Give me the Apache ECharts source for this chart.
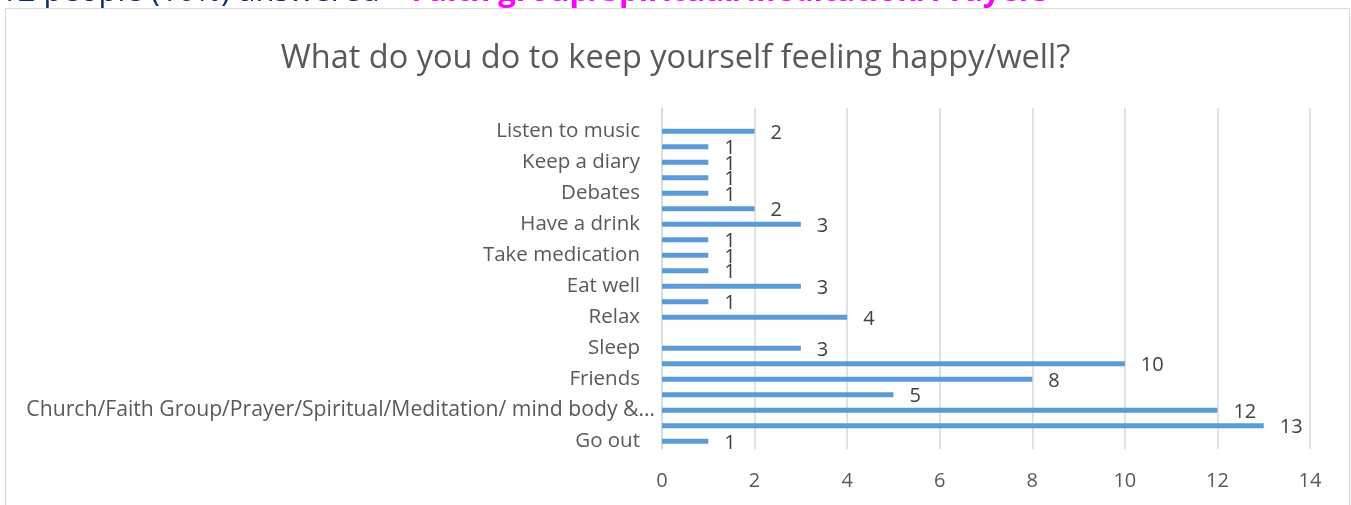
<!DOCTYPE html>
<html>
<head>
<meta charset="utf-8">
<script src="https://cdn.jsdelivr.net/npm/echarts@6/dist/echarts.min.js"></script>
<style>
  html, body { margin: 0; padding: 0; background: #ffffff; }
  #chart { width: 1351px; height: 505px; }
</style>
</head>
<body>
<div id="chart"></div>
<script>
// Categories listed top to bottom; blank entries are rows without a printed label
const categories = [
  '', 'Listen to music', '', 'Keep a diary', '', 'Debates', '', 'Have a drink', '',
  'Take medication', '', 'Eat well', '', 'Relax', '', 'Sleep', '', 'Friends', '',
  'Church/Faith Group/Prayer/Spiritual/Meditation/ mind body &…', '', 'Go out'
];
// Number of responses per row (same order as categories)
const responses = [null, 2, 1, 1, 1, 1, 2, 3, 1, 1, 1, 3, 1, 4, null, 3, 10, 8, 5, 12, 13, 1];
const xTicks = [0, 2, 4, 6, 8, 10, 12, 14];

const headingLead = '12 people (10%) answered – ';
const headingTopic = 'Faith group/Spiritual/Meditation/Prayers';
const chartTitle = 'What do you do to keep yourself feeling happy/well?';

const font = '"Open Sans", sans-serif';
const chart = echarts.init(document.getElementById('chart'), null, { renderer: 'canvas' });

chart.setOption({
  animation: false,
  backgroundColor: '#ffffff',
  title: {
    text: chartTitle,
    left: 'center',
    top: 37,
    textStyle: { fontFamily: font, fontSize: 32.5, fontWeight: 'normal', color: '#595959' }
  },
  graphic: [
    {
      type: 'rect',
      shape: { x: 5.5, y: 8.5, width: 1344, height: 520 },
      style: { fill: 'none', stroke: '#d9d9d9', lineWidth: 1 },
      silent: true
    },
    {
      type: 'text',
      left: 0,
      top: -23,
      style: {
        text: '{a|' + headingLead + '}{b|' + headingTopic + '}',
        rich: {
          a: { fontFamily: font, fontSize: 31, fill: '#0b2a6b' },
          b: { fontFamily: font, fontSize: 31, fontWeight: 'bold', fill: '#ff00ff' }
        }
      },
      silent: true
    }
  ],
  grid: { left: 662, right: 41, top: 108, bottom: 56, containLabel: false },
  xAxis: {
    type: 'value',
    min: 0,
    max: 14,
    interval: 2,
    axisLine: { show: false },
    axisTick: { show: false },
    splitLine: { show: true, lineStyle: { color: '#d9d9d9', width: 1.5 } },
    axisLabel: {
      fontFamily: font, fontSize: 20, color: '#595959', margin: 22,
      formatter: v => (xTicks.indexOf(v) >= 0 ? String(v) : '')
    }
  },
  yAxis: {
    type: 'category',
    inverse: true,
    data: categories,
    axisLine: { show: true, lineStyle: { color: '#d9d9d9', width: 1.5 } },
    axisTick: { show: false },
    axisLabel: {
      interval: 0,
      margin: 6,
      // truncated long names run a little closer to the axis
      formatter: name => (name.endsWith('…') ? '{w|' + name + '}' : '{n|' + name + '}'),
      rich: {
        n: { fontFamily: font, fontSize: 20.5, color: '#595959', padding: [0, 16, 0, 0] },
        w: { fontFamily: font, fontSize: 21.2, color: '#595959', padding: [0, 1, 0, 0] }
      }
    }
  },
  series: [
    {
      type: 'bar',
      data: responses,
      barWidth: 5,
      itemStyle: { color: '#5b9bd5' },
      label: {
        show: true,
        position: 'right',
        distance: 16,
        offset: [0, 2],
        fontFamily: font,
        fontSize: 20,
        color: '#404040'
      }
    }
  ]
});
</script>
</body>
</html>
